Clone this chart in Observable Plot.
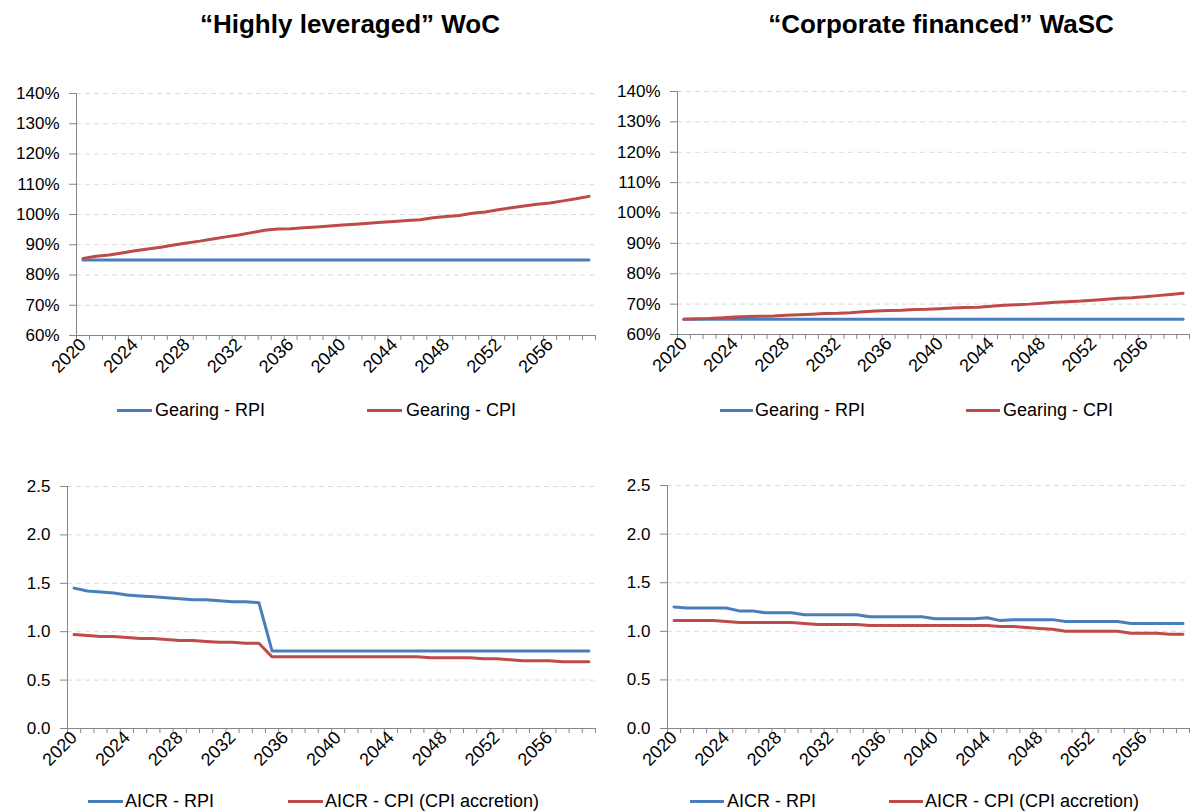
<!DOCTYPE html>
<html><head><meta charset="utf-8">
<script src="https://cdn.jsdelivr.net/npm/d3@7"></script>
<script src="https://cdn.jsdelivr.net/npm/@observablehq/plot@0.6"></script>
<style>
body{margin:0;background:#fff;font-family:"Liberation Sans",Arial,sans-serif;}
#root{position:relative;width:1190px;height:812px;overflow:hidden;}
.title{position:absolute;font-weight:bold;font-size:26px;transform:translateX(-50%);white-space:nowrap;top:9px;color:#000}
.chart{position:absolute}
.legend{position:absolute;font-size:18px;line-height:20px;color:#000;white-space:nowrap}
.sw{position:absolute;height:3px}
</style></head><body><div id="root"></div>
<script>
const years = [2020,2021,2022,2023,2024,2025,2026,2027,2028,2029,2030,2031,2032,2033,2034,2035,2036,2037,2038,2039,
  2040,2041,2042,2043,2044,2045,2046,2047,2048,2049,2050,2051,2052,2053,2054,2055,2056,2057,2058,2059];
const yearTicks = [2020,2024,2028,2032,2036,2040,2044,2048,2052,2056];
const pctTicks = [60,70,80,90,100,110,120,130,140];
const ratioTicks = [0,0.5,1.0,1.5,2.0,2.5];

const titles = ["\u201cHighly leveraged\u201d WoC", "\u201cCorporate financed\u201d WaSC"];
const gearingNames = ["Gearing - RPI", "Gearing - CPI"];
const aicrNames = ["AICR - RPI", "AICR - CPI (CPI accretion)"];

// Highly leveraged WoC - gearing (%)
const wocGearingRPI = [85,85,85,85,85,85,85,85,85,85,85,85,85,85,85,85,85,85,85,85,85,85,85,85,85,85,85,85,85,85,85,85,85,85,85,85,85,85,85,85];
const wocGearingCPI = [85.5,86.2,86.6,87.3,88.0,88.6,89.2,89.9,90.6,91.2,91.9,92.6,93.2,94.0,94.8,95.2,95.3,95.6,95.9,96.2,
  96.5,96.8,97.1,97.4,97.7,98.0,98.3,98.9,99.3,99.7,100.4,100.8,101.6,102.2,102.8,103.4,103.8,104.5,105.2,106.0];
// Corporate financed WaSC - gearing (%)
const wascGearingRPI = [65,65,65,65,65,65,65,65,65,65,65,65,65,65,65,65,65,65,65,65,65,65,65,65,65,65,65,65,65,65,65,65,65,65,65,65,65,65,65,65];
const wascGearingCPI = [65.0,65.2,65.3,65.5,65.8,65.9,66.0,66.1,66.3,66.5,66.7,66.9,67.0,67.2,67.5,67.7,67.9,68.0,68.2,68.3,
  68.5,68.7,68.9,69.0,69.3,69.6,69.8,70.0,70.3,70.6,70.8,71.0,71.3,71.6,71.9,72.1,72.4,72.8,73.2,73.6];
// Highly leveraged WoC - AICR
const wocAicrRPI = [1.45,1.42,1.41,1.40,1.38,1.37,1.36,1.35,1.34,1.33,1.33,1.32,1.31,1.31,1.30,0.80,0.80,0.80,0.80,0.80,
  0.80,0.80,0.80,0.80,0.80,0.80,0.80,0.80,0.80,0.80,0.80,0.80,0.80,0.80,0.80,0.80,0.80,0.80,0.80,0.80];
const wocAicrCPI = [0.97,0.96,0.95,0.95,0.94,0.93,0.93,0.92,0.91,0.91,0.90,0.89,0.89,0.88,0.88,0.74,0.74,0.74,0.74,0.74,
  0.74,0.74,0.74,0.74,0.74,0.74,0.74,0.73,0.73,0.73,0.73,0.72,0.72,0.71,0.70,0.70,0.70,0.69,0.69,0.69];
// Corporate financed WaSC - AICR
const wascAicrRPI = [1.25,1.24,1.24,1.24,1.24,1.21,1.21,1.19,1.19,1.19,1.17,1.17,1.17,1.17,1.17,1.15,1.15,1.15,1.15,1.15,
  1.13,1.13,1.13,1.13,1.14,1.11,1.12,1.12,1.12,1.12,1.10,1.10,1.10,1.10,1.10,1.08,1.08,1.08,1.08,1.08];
const wascAicrCPI = [1.11,1.11,1.11,1.11,1.10,1.09,1.09,1.09,1.09,1.09,1.08,1.07,1.07,1.07,1.07,1.06,1.06,1.06,1.06,1.06,
  1.06,1.06,1.06,1.06,1.06,1.05,1.05,1.04,1.03,1.02,1.00,1.00,1.00,1.00,1.00,0.98,0.98,0.98,0.97,0.97];

const BLUE = "#4a7ebb", RED = "#be4b48", AXIS = "#868686", GRID = "#d9d9d9";
const root = document.getElementById("root");

function chart({rpi, cpi, yDomain, yTicks, yFormat, left, top, width, height, ml, mr, mt, mb}) {
  const bounds = years.map(y => y - 0.5).concat([years[years.length - 1] + 0.5]);
  const svg = Plot.plot({
    width, height, marginLeft: ml, marginRight: mr, marginTop: mt, marginBottom: mb,
    style: {fontFamily: "'Liberation Sans', Arial, sans-serif", color: "#000", background: "transparent", overflow: "visible"},
    x: {type: "linear", domain: [bounds[0], bounds[bounds.length - 1]]},
    y: {domain: yDomain},
    marks: [
      Plot.gridY(yTicks.slice(1), {stroke: GRID, strokeOpacity: 1, strokeDasharray: "5,4"}),
      Plot.axisY(yTicks, {tickFormat: yFormat, tickSize: 7, tickPadding: 10, stroke: AXIS, fontSize: 17, label: null}),
      Plot.axisX(bounds, {tickFormat: () => "", tickSize: 5, stroke: AXIS, label: null}),
      Plot.axisX(yearTicks, {tickFormat: d => String(d), tickSize: 0, tickPadding: 6, tickRotate: -45, fontSize: 18, label: null}),
      Plot.ruleY([yDomain[0]], {stroke: AXIS}),
      Plot.ruleX([bounds[0]], {stroke: AXIS}),
      Plot.line(years, {x: d => d, y: (d, i) => rpi[i], stroke: BLUE, strokeWidth: 3}),
      Plot.line(years, {x: d => d, y: (d, i) => cpi[i], stroke: RED, strokeWidth: 3})
    ]
  });
  svg.classList.add("chart");
  svg.style.left = left + "px";
  svg.style.top = top + "px";
  root.appendChild(svg);
}

function legend(names, xs, y) {
  const colors = [BLUE, RED];
  names.forEach((n, i) => {
    const sw = document.createElement("div");
    sw.className = "sw";
    sw.style.left = xs[i][0] + "px";
    sw.style.width = (xs[i][1] - xs[i][0]) + "px";
    sw.style.top = (y - 1.5) + "px";
    sw.style.background = colors[i];
    root.appendChild(sw);
    const t = document.createElement("div");
    t.className = "legend";
    t.textContent = n;
    t.style.left = xs[i][2] + "px";
    t.style.top = (y - 10) + "px";
    root.appendChild(t);
  });
}

function title(text, cx) {
  const d = document.createElement("div");
  d.className = "title";
  d.textContent = text;
  d.style.left = cx + "px";
  root.appendChild(d);
}

title(titles[0], 350);
title(titles[1], 941);

const pctFmt = d => d + "%";
const ratioFmt = d3.format(".1f");

chart({rpi: wocGearingRPI, cpi: wocGearingCPI, yDomain: [60, 140], yTicks: pctTicks, yFormat: pctFmt,
  left: 0, top: 60, width: 600, height: 320, ml: 76, mr: 5, mt: 33, mb: 45});
chart({rpi: wascGearingRPI, cpi: wascGearingCPI, yDomain: [60, 140], yTicks: pctTicks, yFormat: pctFmt,
  left: 600, top: 60, width: 590, height: 320, ml: 77, mr: 1, mt: 31, mb: 46});
chart({rpi: wocAicrRPI, cpi: wocAicrCPI, yDomain: [0, 2.5], yTicks: ratioTicks, yFormat: ratioFmt,
  left: 0, top: 455, width: 600, height: 318, ml: 67, mr: 5, mt: 31, mb: 45});
chart({rpi: wascAicrRPI, cpi: wascAicrCPI, yDomain: [0, 2.5], yTicks: ratioTicks, yFormat: ratioFmt,
  left: 600, top: 455, width: 590, height: 318, ml: 67, mr: 1, mt: 30, mb: 45});

legend(gearingNames, [[117, 152, 155], [367, 402, 406]], 410);
legend(gearingNames, [[720, 753, 755], [966, 1000, 1003]], 410);
legend(aicrNames, [[88, 123, 125], [288, 323, 325]], 801);
legend(aicrNames, [[690, 724, 727], [889, 923, 925]], 801);
</script></body></html>
